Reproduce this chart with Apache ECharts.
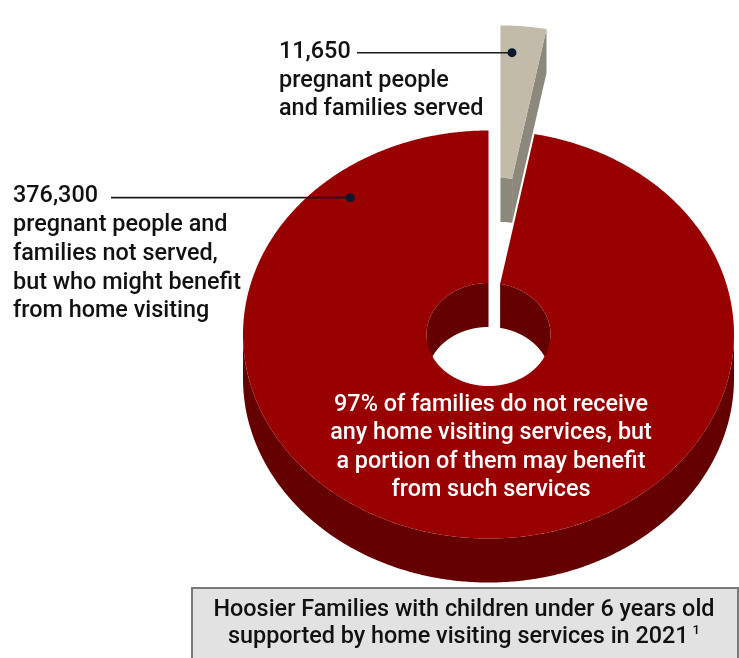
<!DOCTYPE html>
<html>
<head>
<meta charset="utf-8">
<script src="https://cdn.jsdelivr.net/npm/echarts@6/dist/echarts.min.js"></script>
<style>
  html, body { margin: 0; padding: 0; background: #ffffff; }
  #chart { width: 739px; height: 658px; }
</style>
</head>
<body>
<div id="chart"></div>
<script>
// Hoosier families with children under 6, by home visiting status (2021)
const categories = ['Served', 'Not served'];
const families = [11650, 376300];
const labelTexts = [
  'pregnant people\nand families served',
  'pregnant people and\nfamilies not served,\nbut who might benefit\nfrom home visiting'
];
const calloutText = '97% of families do not receive\nany home visiting services, but\na portion of them may benefit\nfrom such services';
const captionLines = ['Hoosier Families with children under 6 years old', 'supported by home visiting services in 2021'];
const footnoteMark = '1';

// Layout of the tilted ring (screen pixels)
const ring = { cx: 488.5, cy: 334.5, rOuter: 245.5, rInner: 62, tilt: 0.831, depth: 44 };
const sliceStyles = [
  { top: '#c3bba9', side: '#8c887c', explode: 127,
    anchor: { r: 213, deg: 3.1 }, lineStartX: 357, label: { x: 279, y: 37.5 } },
  { top: '#990000', side: '#640000', explode: 0,
    anchor: { r: 215, deg: 320 }, lineStartX: 111, label: { x: 13, y: 182 } }
];
const FONT = 'Roboto, "Liberation Sans", sans-serif';
const FONT_SIZE = 23.4;

const total = families.reduce((a, b) => a + b, 0);
const startAngles = [];
families.reduce((acc, v, i) => { startAngles[i] = acc; return acc + v; }, 0);

function pt(r, th, h, off) {
  return [ring.cx + off[0] + r * Math.sin(th), ring.cy + off[1] - r * ring.tilt * Math.cos(th) + h];
}
function arcPts(r, a0, a1, h, off) {
  const n = Math.max(2, Math.ceil(Math.abs(a1 - a0) / 0.01));
  const out = [];
  for (let i = 0; i <= n; i++) out.push(pt(r, a0 + (a1 - a0) * i / n, h, off));
  return out;
}
function clip(a0, a1, lo, hi) {
  const s = Math.max(a0, lo), e = Math.min(a1, hi);
  return s < e ? [s, e] : null;
}
function wall(r, range, off, fill) {
  return {
    type: 'polygon',
    shape: { points: arcPts(r, range[0], range[1], 0, off).concat(arcPts(r, range[1], range[0], ring.depth, off)) },
    style: { fill: fill }
  };
}

function renderSlice(params, api) {
  const i = params.dataIndex;
  const st = sliceStyles[i];
  const a0 = startAngles[i] / total * Math.PI * 2;
  const a1 = (startAngles[i] + api.value(1)) / total * Math.PI * 2;
  const mid = (a0 + a1) / 2;
  const off = [st.explode * Math.sin(mid), -st.explode * ring.tilt * Math.cos(mid)];
  const D = ring.depth, R = ring.rOuter, r0 = ring.rInner;
  const children = [];

  // inner wall, far half of the hole
  [clip(a0, a1, 0, Math.PI / 2), clip(a0, a1, Math.PI * 1.5, Math.PI * 2)].forEach(function (rg) {
    if (rg) children.push(wall(r0, rg, off, st.side));
  });
  // outer wall, near half
  const front = clip(a0, a1, Math.PI / 2, Math.PI * 1.5);
  if (front) children.push(wall(R, front, off, st.side));
  // radial cut faces that turn toward the viewer
  [[a0, Math.sin(a0) < -1e-6], [a1, Math.sin(a1) > 1e-6]].forEach(function (e) {
    if (!e[1]) return;
    children.push({
      type: 'polygon',
      shape: { points: [pt(r0, e[0], 0, off), pt(R, e[0], 0, off), pt(R, e[0], D, off), pt(r0, e[0], D, off)] },
      style: { fill: st.side }
    });
  });
  // top face
  children.push({
    type: 'polygon',
    shape: { points: arcPts(R, a0, a1, 0, off).concat(arcPts(r0, a1, a0, 0, off)) },
    style: { fill: st.top }
  });

  // leader line, dot and label
  const th = st.anchor.deg * Math.PI / 180;
  const dot = pt(st.anchor.r, th, 0, off);
  children.push({
    type: 'line',
    shape: { x1: st.lineStartX, y1: dot[1], x2: dot[0], y2: dot[1] },
    style: { stroke: '#1a1a1a', lineWidth: 1.6 }
  });
  children.push({
    type: 'circle',
    shape: { cx: dot[0], cy: dot[1], r: 4.5 },
    style: { fill: '#0b1830' }
  });
  children.push({
    type: 'text',
    style: {
      text: api.value(1).toLocaleString('en-US') + '\n' + labelTexts[i],
      x: st.label.x, y: st.label.y,
      fill: '#111111', fontFamily: FONT, fontSize: FONT_SIZE, fontWeight: 500,
      lineHeight: 28.8, align: 'left', verticalAlign: 'top'
    }
  });
  return { type: 'group', children: children };
}

const chart = echarts.init(document.getElementById('chart'), null, { renderer: 'canvas' });
chart.setOption({
  animation: false,
  backgroundColor: '#ffffff',
  series: [{
    type: 'custom',
    coordinateSystem: 'none',
    silent: true,
    data: categories.map(function (c, i) { return [i, families[i]]; }),
    renderItem: renderSlice
  }],
  graphic: [
    {
      type: 'text', z: 100,
      style: {
        text: calloutText, x: 491, y: 390.8,
        fill: '#ffffff', fontFamily: FONT, fontSize: FONT_SIZE, fontWeight: 500,
        lineHeight: 28.5, align: 'center', verticalAlign: 'top'
      }
    },
    {
      type: 'rect', z: 100,
      shape: { x: 192, y: 588, width: 546, height: 90 },
      style: { fill: '#e2e2e2', stroke: '#7a7a7a', lineWidth: 2 }
    },
    {
      type: 'text', z: 101,
      style: {
        text: captionLines[0] + '\n' + captionLines[1] + '{sup|' + footnoteMark + '}',
        x: 464, y: 597,
        fill: '#111111', fontFamily: FONT, fontSize: FONT_SIZE, fontWeight: 500,
        lineHeight: 26.5, align: 'center', verticalAlign: 'top',
        rich: {
          sup: { fontFamily: FONT, fontSize: 13, fontWeight: 500, fill: '#111111',
                 padding: [0, 0, 12, 4] }
        }
      }
    }
  ]
});
</script>
</body>
</html>
